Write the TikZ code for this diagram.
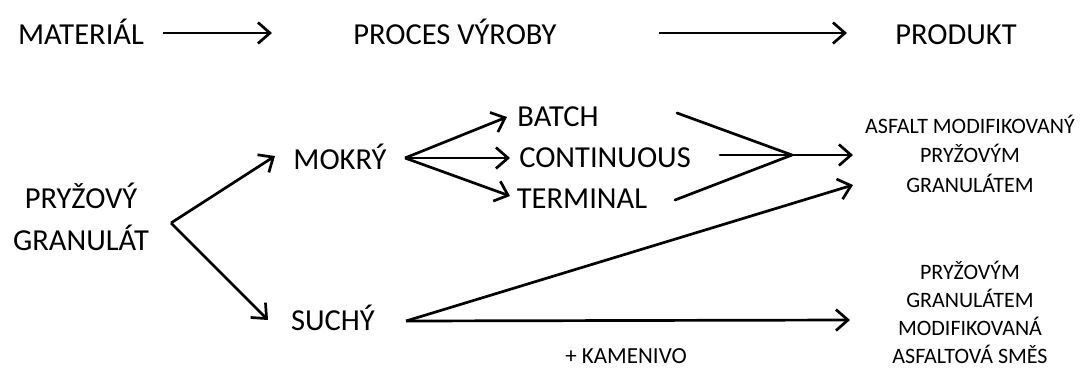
\documentclass[tikz,border=0pt]{standalone}
\usepackage{fontspec}
\setmainfont{Carlito}
\usetikzlibrary{arrows.meta}
\begin{document}
\begin{tikzpicture}[x=1pt,y=-1pt,
  big/.style={font=\fontsize{30.5}{42}\selectfont, inner sep=0pt, anchor=base, align=center},
  small/.style={font=\fontsize{22}{29.5}\selectfont, inner sep=0pt, anchor=base, align=center},
  smalltwo/.style={font=\fontsize{22}{27.8}\selectfont, inner sep=0pt, anchor=base, align=center},
  note/.style={font=\fontsize{23}{28}\selectfont, inner sep=0pt, anchor=base},
  arr/.style={-{Straight Barb[length=12pt,width=21pt]}, line width=2.7pt},
  ln/.style={line width=2.7pt, line cap=round}]
\useasboundingbox (0,0) rectangle (1082,367);
% top row
\node[big] (mat) at (81,44) {MATERIÁL};
\node[big] (proc) at (455,44) {PROCES VÝROBY};
\node[big] (prod) at (956,44) {PRODUKT};
\coordinate (a1s) at (163,33);
\coordinate (a1e) at (272,33);
\coordinate (a2s) at (659,33);
\coordinate (a2e) at (847,33);
\draw[arr] (a1s) -- (a1e);
\draw[arr] (a2s) -- (a2e);
% material
\node[big] (gran) at (81,250) {PRYŽOVÝ\\GRANULÁT};
\node[big] (mok) at (340,169) {MOKRÝ};
\node[big] (such) at (333,330) {SUCHÝ};
\node[big] (batch) at (558,126) {BATCH};
\node[big] (cont) at (605,167) {CONTINUOUS};
\node[big] (term) at (582,208) {TERMINAL};
\node[small] (prod1) at (970,192) {ASFALT MODIFIKOVANÝ\\PRYŽOVÝM\\GRANULÁTEM};
\node[smalltwo] (prod2) at (970,363) {PRYŽOVÝM\\GRANULÁTEM\\MODIFIKOVANÁ\\ASFALTOVÁ SMĚS};
\node[note] (kam) at (626,363) {+ KAMENIVO};
% connectors
\coordinate (v) at (171,223);
\coordinate (mtip) at (275,156);
\coordinate (stip) at (268,320);
\draw[arr] (v) -- (mtip);
\draw[arr] (v) -- (stip);
\coordinate (mo) at (405,158);
\coordinate (bt) at (507,117);
\coordinate (ct) at (510,158);
\coordinate (tt) at (510,196);
\draw[arr] (mo) -- (bt);
\draw[arr] (mo) -- (ct);
\draw[arr] (mo) -- (tt);
\coordinate (b1) at (677,113);
\coordinate (c1) at (720,155);
\coordinate (t1) at (675,200);
\coordinate (j) at (792,155);
\coordinate (r1) at (853,155);
\draw[ln] (b1) -- (j);
\draw[ln] (c1) -- (j);
\draw[ln] (t1) -- (j);
\draw[arr] (j) -- (r1);
\coordinate (so) at (406,321);
\coordinate (r1b) at (853,185);
\coordinate (r2) at (850,320);
\draw[arr] (so) -- (r1b);
\draw[arr] (so) -- (r2);
\end{tikzpicture}
\end{document}
